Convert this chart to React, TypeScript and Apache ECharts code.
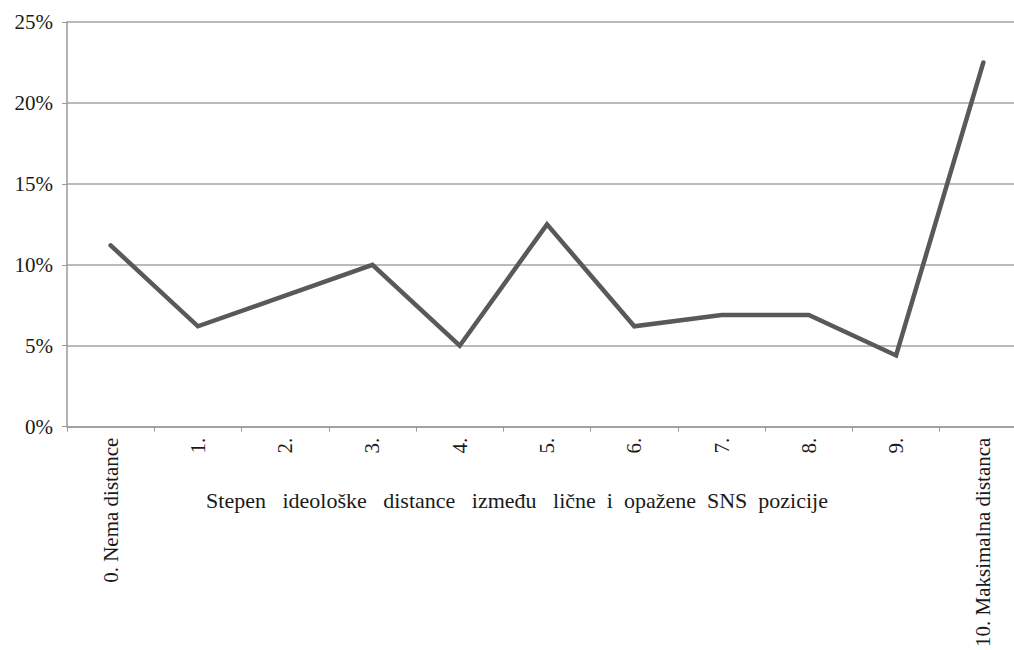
import React, { useEffect, useRef } from "react";
import * as echarts from "echarts";

const categories: string[] = [
  "0. Nema distance",
  "1.",
  "2.",
  "3.",
  "4.",
  "5.",
  "6.",
  "7.",
  "8.",
  "9.",
  "10. Maksimalna distanca",
];
const values: number[] = [11.2, 6.2, 8.1, 10.0, 5.0, 12.5, 6.2, 6.9, 6.9, 4.4, 22.5];
const yTicks: number[] = [0, 5, 10, 15, 20, 25];
const axisTitle = "Stepen   ideološke   distance   između   lične  i  opažene  SNS  pozicije";

export default function App() {
  const ref = useRef<HTMLDivElement>(null);
  useEffect(() => {
    if (!ref.current) return;
    const chart = echarts.init(ref.current, null, { renderer: "svg" });
    const font = "Liberation Serif";
    chart.setOption({
      animation: false,
      backgroundColor: "#ffffff",
      textStyle: { fontFamily: font },
      grid: { left: 67, top: 22, right: 4, bottom: 223, containLabel: false },
      xAxis: {
        type: "category",
        data: categories,
        boundaryGap: true,
        axisLine: { show: true, lineStyle: { color: "#9a9a9a", width: 1.5 } },
        axisTick: { show: true, length: 5, lineStyle: { color: "#9a9a9a" } },
        axisLabel: {
          rotate: 90,
          interval: 0,
          margin: 11,
          color: "#1a1a1a",
          fontSize: 21,
          fontFamily: font,
        },
        splitLine: { show: false },
      },
      yAxis: {
        type: "value",
        min: yTicks[0],
        max: yTicks[yTicks.length - 1],
        interval: 5,
        axisLine: { show: true, lineStyle: { color: "#9a9a9a", width: 1.5 } },
        axisTick: { show: true, length: 5, lineStyle: { color: "#9a9a9a" } },
        axisLabel: {
          formatter: (v: number) => `${v}%`,
          margin: 14,
          color: "#1a1a1a",
          fontSize: 21,
          fontFamily: font,
        },
        splitLine: { show: true, lineStyle: { color: "#a3a3a3", width: 1.5 } },
      },
      series: [
        {
          type: "line",
          data: values,
          symbol: "none",
          lineStyle: { color: "#595959", width: 4.5, cap: "round", join: "miter" },
        },
      ],
      graphic: [
        {
          type: "text",
          x: 517,
          y: 500,
          style: {
            text: axisTitle,
            fontSize: 22,
            fontFamily: font,
            fill: "#1a1a1a",
            align: "center",
            verticalAlign: "middle",
          },
        },
      ],
    });
    return () => chart.dispose();
  }, []);
  return (
    <div style={{ position: "fixed", left: 0, top: 0, width: 1014, height: 650, overflow: "hidden", background: "#fff" }}>
      <div ref={ref} style={{ width: 1031, height: 650 }} />
    </div>
  );
}
